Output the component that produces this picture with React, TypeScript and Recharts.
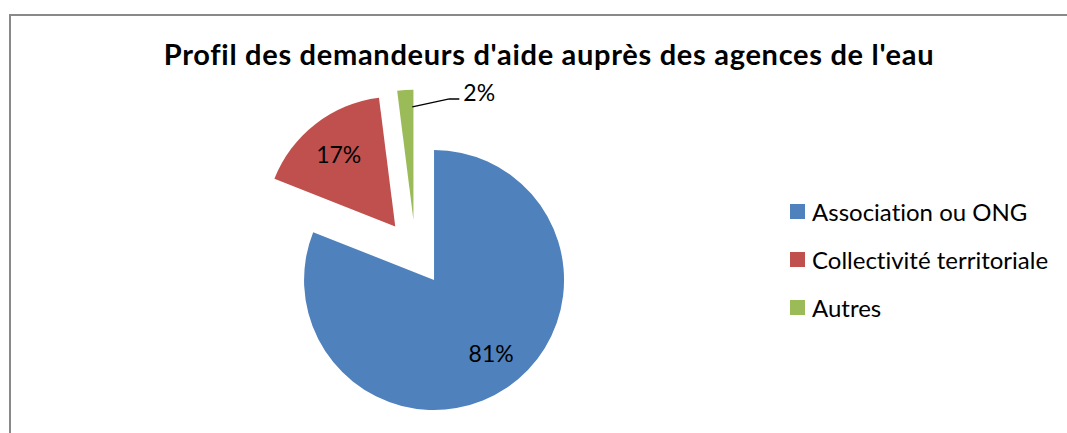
import React from 'react';
import { PieChart, Pie, Cell, Sector, Legend } from 'recharts';

const categories = ['Association ou ONG', 'Collectivité territoriale', 'Autres'];
const shares = [81, 17, 2];
const colors = ['#4F81BD', '#C0504D', '#9BBB59'];

const data = categories.map((name, i) => ({ name, value: shares[i] }));

const RAD = Math.PI / 180;
const EXPLODE = 33;
const FONT = 'Lato, "Open Sans", sans-serif';

// every slice pushed out along its middle angle
const shift = (midAngle: number) => ({
  dx: EXPLODE * Math.cos(-midAngle * RAD),
  dy: EXPLODE * Math.sin(-midAngle * RAD),
});

const ExplodedSector = (props: any) => {
  const { dx, dy } = shift(props.midAngle);
  return <Sector {...props} cx={props.cx + dx} cy={props.cy + dy} stroke="none" />;
};

const renderLabel = (props: any) => {
  const { cx, cy, midAngle, outerRadius, value, index } = props;
  const { dx, dy } = shift(midAngle);
  const ax = cx + dx;
  const ay = cy + dy;
  if (value < 5) {
    // small slice: label outside with a leader line
    const cos = Math.cos(-midAngle * RAD);
    const sin = Math.sin(-midAngle * RAD);
    const sx = ax + outerRadius * 0.87 * cos + 6;
    const sy = ay + outerRadius * 0.87 * sin;
    const mx = sx + 37;
    const my = sy - 8;
    const ex = mx + 10;
    return (
      <g key={`lbl-${index}`}>
        <polyline points={`${sx},${sy} ${mx},${my} ${ex},${my}`} stroke="#000" strokeWidth={1.5} fill="none" />
        <text x={ex + 4} y={my - 7} dominantBaseline="central" fontFamily={FONT} fontSize={23} fill="#000">
          {`${value}%`}
        </text>
      </g>
    );
  }
  // Excel nudges the big slice's label a little toward the open side
  const a = (midAngle + (value > 50 ? 4 : 0)) * RAD;
  const r = outerRadius * 0.71;
  return (
    <text
      key={`lbl-${index}`}
      x={ax + r * Math.cos(-a)}
      y={ay + r * Math.sin(-a)}
      textAnchor="middle"
      dominantBaseline="central"
      fontFamily={FONT}
      fontSize={23}
      fill="#000"
    >
      {`${value}%`}
    </text>
  );
};

const LegendContent = () => (
  <div style={{ fontFamily: FONT, fontSize: 24, color: '#000', fontVariantLigatures: 'none' }}>
    {categories.map((c, i) => (
      <div key={c} style={{ display: 'flex', alignItems: 'center', height: 48 }}>
        <span style={{ width: 15, height: 15, background: colors[i], marginRight: 7, display: 'inline-block' }} />
        <span>{c}</span>
      </div>
    ))}
  </div>
);

export default function App() {
  return (
    <div style={{ position: 'absolute', left: 0, top: 0, width: 1067, height: 433, background: '#fff', overflow: 'hidden' }}>
      <div
        style={{
          position: 'absolute',
          left: 9,
          top: 14,
          width: 1100,
          height: 500,
          borderTop: '2px solid #898989',
          borderLeft: '2px solid #898989',
        }}
      />
      <div
        style={{
          position: 'absolute',
          left: 0,
          top: 36,
          width: 1098,
          textAlign: 'center',
          fontFamily: FONT,
          fontWeight: 700,
          fontSize: 29,
          letterSpacing: 0.7,
          fontVariantLigatures: 'none',
          color: '#000',
        }}
      >
        Profil des demandeurs d'aide auprès des agences de l'eau
      </div>
      <div style={{ position: 'absolute', left: 0, top: 0 }}>
        <PieChart width={1067} height={433} margin={{ top: 0, right: 0, bottom: 0, left: 0 }}>
          <Pie
            data={data}
            dataKey="value"
            nameKey="name"
            cx={415.5}
            cy={252.7}
            outerRadius={130}
            startAngle={90}
            endAngle={-270}
            stroke="none"
            shape={ExplodedSector}
            label={renderLabel}
            labelLine={false}
            isAnimationActive={false}
          >
            {data.map((d, i) => (
              <Cell key={d.name} fill={colors[i]} />
            ))}
          </Pie>
          <Legend
            layout="vertical"
            align="right"
            verticalAlign="top"
            content={<LegendContent />}
            wrapperStyle={{ left: 790, top: 187, width: 275 }}
          />
        </PieChart>
      </div>
    </div>
  );
}
